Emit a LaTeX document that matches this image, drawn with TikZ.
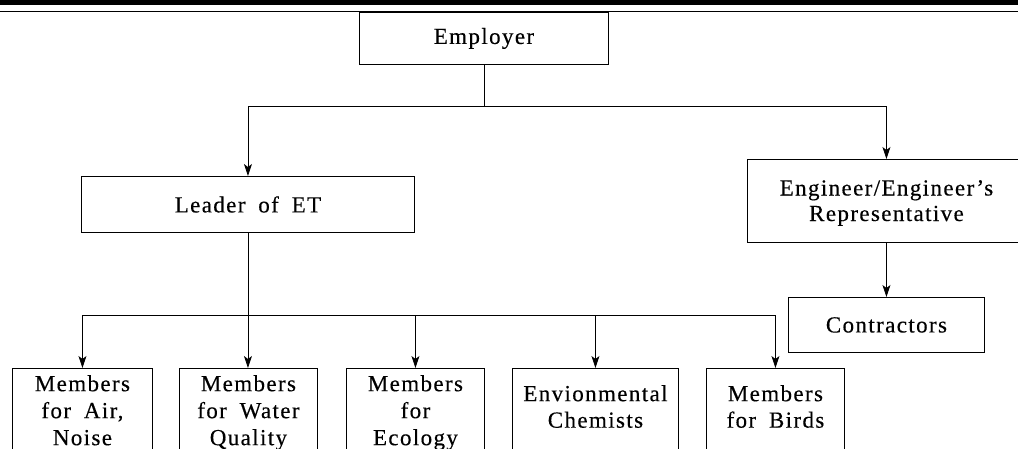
\documentclass[tikz,border=0pt]{standalone}
\usepackage{fontspec}
\setmainfont{Liberation Serif}[LetterSpace=6,WordSpace=1.8,FakeBold=0.3]
\usetikzlibrary{arrows.meta}
\begin{document}
\begin{tikzpicture}[x=1pt,y=-1pt,
  box/.style={draw=black,line width=0.9pt,anchor=north west,inner sep=0pt,
    font=\fontsize{23}{26}\selectfont,align=center},
  mtext/.style={anchor=north,inner sep=0pt,align=center,
    font=\fontsize{23}{27}\selectfont},
  etext/.style={mtext,font=\fontsize{23}{25.5}\selectfont},
  link/.style={draw=black,line width=0.8pt},
  arr/.style={link,-{Stealth[length=12pt,width=8pt,inset=3pt]}}]
\useasboundingbox (0,0) rectangle (1018,448);
\clip (0,0) rectangle (1018,448);
% top rules
\fill[black] (0,0) rectangle (1018,4.5);
\draw[line width=1.3pt] (0,11.5) -- (1018,11.5);
% boxes
\node[box,minimum width=249pt,minimum height=52pt] (emp) at (359,12) {Employer};
\node[box,minimum width=333pt,minimum height=56pt] (leader) at (81,176) {Leader of ET};
\node[box,minimum width=290pt,minimum height=83pt] (eng) at (747,159) {};
\node[box,minimum width=196pt,minimum height=55pt] (contr) at (788,297) {Contractors};
\node[box,minimum width=140pt,minimum height=110pt] (m1) at (12,368) {};
\node[box,minimum width=138pt,minimum height=110pt] (m2) at (179,368) {};
\node[box,minimum width=138pt,minimum height=110pt] (m3) at (346,368) {};
\node[box,minimum width=166pt,minimum height=110pt] (m4) at (512,368) {};
\node[box,minimum width=138pt,minimum height=110pt] (m5) at (706,368) {};
% texts
\node[etext] (engt) at (eng.north -| contr.north) [yshift=-21pt] {Engineer/Engineer's\\Representative};
\node[mtext] (t1) at ([yshift=-7pt]m1.north) {Members\\for Air,\\Noise};
\node[mtext] (t2) at ([yshift=-7pt]m2.north) {Members\\for Water\\Quality};
\node[mtext] (t3) at ([yshift=-7pt]m3.north) {Members\\for\\Ecology};
\node[mtext,font=\fontsize{23}{26.5}\selectfont] (t4) at ([yshift=-17pt]m4.north) {Envionmental\\Chemists};
\node[mtext,font=\fontsize{23}{26.5}\selectfont] (t5) at ([yshift=-17pt]m5.north) {Members\\for Birds};
% connectors
\draw[link] (emp.south) -- ++(0,41) coordinate (j1);
\draw[arr] (j1) -| (leader.north);
\draw[arr] (j1) -| (eng.north -| contr.north);
\draw[arr] (eng.south -| contr.north) -- (contr.north);
\draw[link] (leader.south) -- ++(0,82) coordinate (j2);
\draw[arr] (j2) -| (m1.north);
\draw[arr] (j2) -- (j2 |- m2.north);
\draw[arr] (j2) -| (m3.north);
\draw[arr] (j2) -| (m4.north);
\draw[arr] (j2) -| (m5.north);
\end{tikzpicture}
\end{document}
